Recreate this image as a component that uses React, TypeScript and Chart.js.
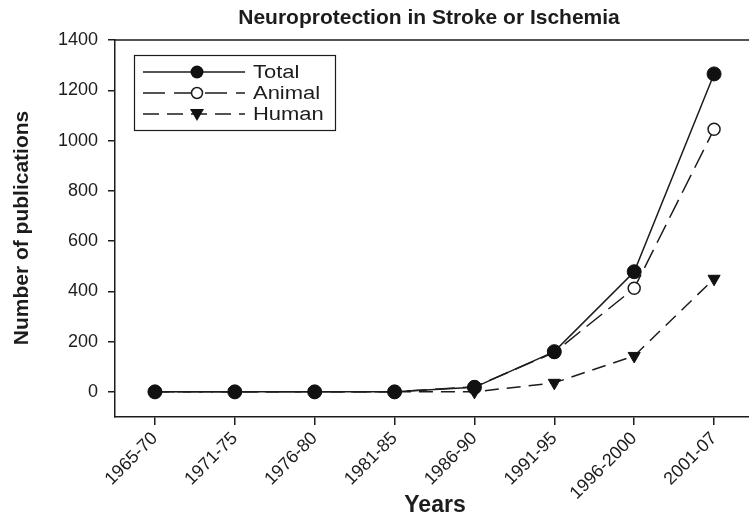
import React, { useEffect, useRef } from "react";
import { Chart, registerables } from "chart.js";

Chart.register(...registerables);

const categories = ["1965-70", "1971-75", "1976-80", "1981-85", "1986-90", "1991-95", "1996-2000", "2001-07"];
const totalValues = [0, 0, 0, 0, 18, 160, 478, 1265];
const animalValues = [0, 0, 0, 0, 20, 157, 412, 1045];
const humanValues = [0, 0, 0, 0, 0, 36, 143, 450];
const yTicks = [0, 200, 400, 600, 800, 1000, 1200, 1400];
const seriesNames = ["Total", "Animal", "Human"];
const titleText = "Neuroprotection in Stroke or Ischemia";
const xTitle = "Years";
const yTitle = "Number of publications";

const FONT = "'Liberation Sans', Arial, sans-serif";
const INK = "#1c1c1c";

const decorPlugin = {
  id: "decor",
  afterDraw(chart: any) {
    const ctx = chart.ctx;
    const a = chart.chartArea;
    ctx.save();
    // top & right frame
    ctx.strokeStyle = INK;
    ctx.lineWidth = 1.5;
    ctx.beginPath();
    ctx.moveTo(a.left, a.top);
    ctx.lineTo(a.right, a.top);
    ctx.lineTo(a.right, a.bottom);
    ctx.stroke();

    // title
    ctx.fillStyle = INK;
    ctx.textAlign = "center";
    ctx.textBaseline = "middle";
    ctx.font = `bold 21px ${FONT}`;
    ctx.fillText(titleText, 429, 18);

    // x title
    ctx.font = `bold 23px ${FONT}`;
    ctx.fillText(xTitle, 435, 506);

    // y title
    ctx.save();
    ctx.translate(22, 228);
    ctx.rotate(-Math.PI / 2);
    ctx.font = `bold 21px ${FONT}`;
    ctx.fillText(yTitle, 0, 0);
    ctx.restore();

    // legend
    const bx = 134.5, by = 55.5, bw = 201, bh = 75;
    ctx.lineWidth = 1.2;
    ctx.strokeRect(bx, by, bw, bh);
    const rows = [72, 93, 114];
    const dashes = [[], [22, 9], [16, 8]];
    const x0 = 143, x1 = 245, mx = 197;
    rows.forEach((ry, i) => {
      ctx.save();
      ctx.lineWidth = 1.5;
      ctx.setLineDash(dashes[i] as number[]);
      ctx.beginPath();
      ctx.moveTo(x0, ry);
      ctx.lineTo(x1, ry);
      ctx.stroke();
      ctx.restore();
      ctx.save();
      ctx.setLineDash([]);
      if (i === 0) {
        ctx.fillStyle = "#111";
        ctx.beginPath();
        ctx.arc(mx, ry, 6.5, 0, Math.PI * 2);
        ctx.fill();
      } else if (i === 1) {
        ctx.fillStyle = "#fff";
        ctx.strokeStyle = INK;
        ctx.lineWidth = 1.5;
        ctx.beginPath();
        ctx.arc(mx, ry, 5.5, 0, Math.PI * 2);
        ctx.fill();
        ctx.stroke();
      } else {
        ctx.fillStyle = "#111";
        ctx.beginPath();
        ctx.moveTo(mx - 7, ry - 5);
        ctx.lineTo(mx + 7, ry - 5);
        ctx.lineTo(mx, ry + 7);
        ctx.closePath();
        ctx.fill();
      }
      ctx.restore();
      ctx.save();
      ctx.fillStyle = INK;
      ctx.textAlign = "left";
      ctx.textBaseline = "middle";
      ctx.font = `18px ${FONT}`;
      ctx.translate(253, ry + 1);
      ctx.scale(1.22, 1);
      ctx.fillText(seriesNames[i], 0, 0);
      ctx.restore();
    });
    ctx.restore();
  },
};

export default function App() {
  const ref = useRef<HTMLCanvasElement | null>(null);
  useEffect(() => {
    const canvas = ref.current;
    if (!canvas) return;
    const chart = new Chart(canvas, {
      type: "line",
      data: {
        labels: categories,
        datasets: [
          {
            label: seriesNames[0],
            data: totalValues,
            borderColor: INK,
            borderWidth: 1.5,
            pointStyle: "circle",
            pointRadius: 7,
            pointBackgroundColor: "#111",
            pointBorderColor: "#111",
            pointBorderWidth: 1,
            tension: 0,
          },
          {
            label: seriesNames[1],
            data: animalValues,
            borderColor: INK,
            borderWidth: 1.5,
            borderDash: [20, 8],
            pointStyle: "circle",
            pointRadius: 6,
            pointBackgroundColor: "#fff",
            pointBorderColor: INK,
            pointBorderWidth: 1.5,
            tension: 0,
          },
          {
            label: seriesNames[2],
            data: humanValues,
            borderColor: INK,
            borderWidth: 1.5,
            borderDash: [14, 8],
            pointStyle: "triangle",
            pointRotation: 180,
            pointRadius: 7,
            pointBackgroundColor: "#111",
            pointBorderColor: "#111",
            pointBorderWidth: 1,
            tension: 0,
          },
        ],
      },
      options: {
        responsive: false,
        animation: false,
        layout: { padding: { top: 40, right: 7, left: 0, bottom: 0 } },
        plugins: {
          legend: { display: false },
          title: { display: false },
          tooltip: { enabled: false },
        },
        scales: {
          x: {
            type: "category",
            offset: true,
            afterFit: (s: any) => {
              s.height = 102;
            },
            grid: {
              drawOnChartArea: false,
              drawTicks: true,
              tickLength: 8,
              color: INK,
              lineWidth: 1.5,
            },
            border: { display: true, color: INK, width: 1.5 },
            ticks: {
              autoSkip: false,
              minRotation: 45,
              maxRotation: 45,
              padding: 3,
              color: INK,
              font: { family: FONT, size: 18 },
            },
          },
          y: {
            type: "linear",
            min: -100,
            max: 1400,
            afterFit: (s: any) => {
              s.width = 115;
            },
            afterBuildTicks: (s: any) => {
              s.ticks = yTicks.map((v) => ({ value: v }));
            },
            grid: {
              drawOnChartArea: false,
              drawTicks: true,
              tickLength: 7,
              color: INK,
              lineWidth: 1.5,
            },
            border: { display: true, color: INK, width: 1.5 },
            ticks: {
              padding: 10,
              color: INK,
              font: { family: FONT, size: 18 },
              callback: (v: any) => String(v),
            },
          },
        },
      },
      plugins: [decorPlugin],
    } as any);
    return () => chart.destroy();
  }, []);
  return (
    <div
      style={{
        position: "fixed",
        left: 0,
        top: 0,
        width: 749,
        height: 519,
        overflow: "hidden",
        background: "#fff",
      }}
    >
      <canvas ref={ref} width={762} height={519} style={{ display: "block" }} />
    </div>
  );
}
